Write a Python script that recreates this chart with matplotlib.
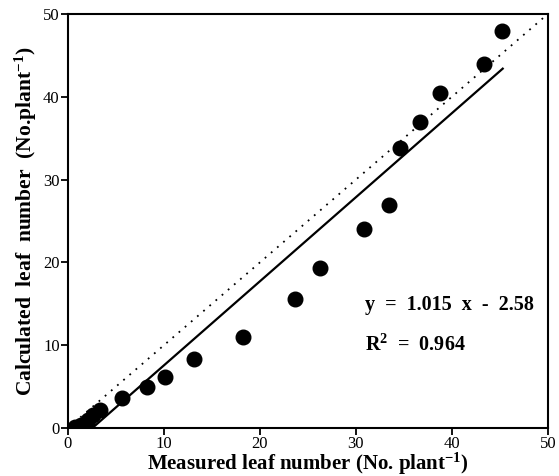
import matplotlib
matplotlib.use("Agg")
import matplotlib.pyplot as plt
import numpy as np

measured = [0.7, 1.4, 2.1, 2.6, 3.3, 5.6, 8.2, 10.1, 13.1, 18.2, 23.7, 26.3,
            30.8, 33.4, 34.6, 36.7, 38.8, 43.3, 45.2]
calculated = [0.1, 0.4, 1.0, 1.6, 2.2, 3.6, 5.0, 6.2, 8.3, 11.0, 15.6, 19.3,
              24.0, 26.9, 33.8, 36.9, 40.5, 44.0, 47.9]
slope = 1.015
intercept = -2.58
r2 = 0.964
ticks = [0, 10, 20, 30, 40, 50]

plt.rcParams['font.family'] = ['Liberation Serif', 'DejaVu Serif']
plt.rcParams['mathtext.fontset'] = 'custom'
plt.rcParams['mathtext.rm'] = 'Liberation Serif'
plt.rcParams['mathtext.bf'] = 'Liberation Serif:bold'
plt.rcParams['mathtext.it'] = 'Liberation Serif:italic'

fig = plt.figure(figsize=(5.59, 4.76), dpi=100)
ax = fig.add_axes([0.1216, 0.1008, 0.8584, 0.8698])

ax.plot([0, 50], [0, 50], linestyle=(0, (1, 3.5)), color='black', lw=1.3)
x0 = -intercept / slope
xs = np.array([x0, 45.3])
ax.plot(xs, slope * xs + intercept, color='black', lw=1.6)
ax.plot(measured, calculated, 'o', color='black', markersize=10.5)

ax.set_xlim(0, 50)
ax.set_ylim(0, 50)
ax.set_xticks(ticks)
ax.set_yticks(ticks)
ax.tick_params(direction='out', length=5, width=1.3, labelsize=12, pad=1)
for s in ax.spines.values():
    s.set_linewidth(1.5)

ax.set_xlabel('Measured leaf number (No. plant$^{\\mathbf{-1}}$)', fontsize=15,
              fontweight='bold')
ax.xaxis.label.set_verticalalignment('baseline')
ax.xaxis.set_label_coords(0.5, -0.1014)
ax.set_ylabel('Calculated  leaf  number  (No.plant$^{\\mathbf{-1}}$)', fontsize=15.5,
              fontweight='bold', labelpad=3)

ax.text(30.9, 14.9, 'y  =  %.3f  x  -  %.2f' % (slope, -intercept), fontsize=14.5,
        fontweight='bold', va='center')
ax.text(30.9, 10.0, 'R$^{\\mathbf{2}}$  =  %.3f' % r2, fontsize=14.5,
        fontweight='bold', va='center')

fig.savefig('out.png', dpi=100)
